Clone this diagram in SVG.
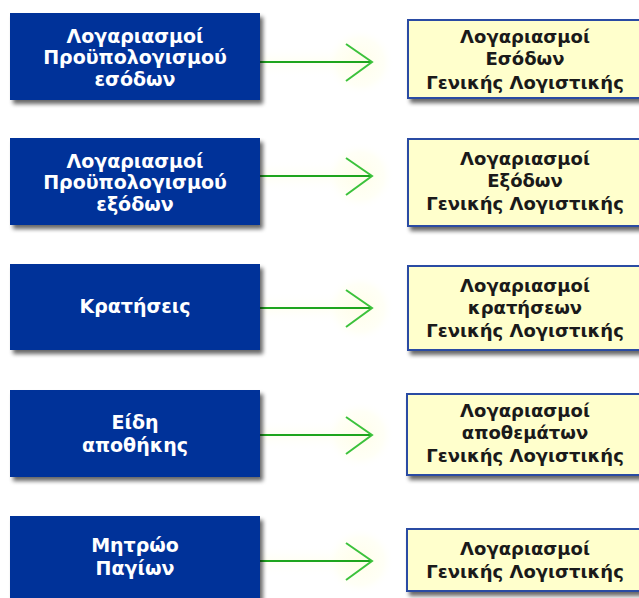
<svg xmlns="http://www.w3.org/2000/svg" width="639" height="598" viewBox="0 0 639 598">
<defs>
<filter id="sh" x="-10%" y="-10%" width="130%" height="140%">
<feGaussianBlur in="SourceAlpha" stdDeviation="2"/>
<feOffset dx="3" dy="4" result="b"/>
<feComponentTransfer><feFuncA type="linear" slope="0.6"/></feComponentTransfer>
<feMerge><feMergeNode/><feMergeNode in="SourceGraphic"/></feMerge>
</filter>
<radialGradient id="glow">
<stop offset="0" stop-color="#fffde8" stop-opacity="1"/>
<stop offset="0.7" stop-color="#fffff0" stop-opacity="0.6"/>
<stop offset="1" stop-color="#ffffff" stop-opacity="0"/>
</radialGradient>
<linearGradient id="band" x1="0" y1="0" x2="0" y2="1">
<stop offset="0" stop-color="#ffffff" stop-opacity="0"/>
<stop offset="0.5" stop-color="#fffff0" stop-opacity="0.8"/>
<stop offset="1" stop-color="#ffffff" stop-opacity="0"/>
</linearGradient>
<g id="arrow">
<rect x="262" y="-16" width="100" height="32" fill="url(#band)"/>
<circle cx="360" cy="0" r="34" fill="url(#glow)"/>
<line x1="260" y1="0" x2="371" y2="0" stroke="#1ea51e" stroke-width="2"/>
<polyline points="346,-18 372,0 346,19" fill="none" stroke="#3cc23c" stroke-width="2"/>
</g>
</defs>
<style>
.src rect{fill:#003399;filter:url(#sh)}
.dst rect{fill:#ffffcc;stroke:#2b4ba3;stroke-width:2;filter:url(#sh)}
.src text{fill:#ffffff;font-family:"DejaVu Sans",sans-serif;font-weight:bold;font-size:19px;text-anchor:middle}
.dst text{fill:#1a1a1a;font-family:"DejaVu Sans",sans-serif;font-weight:bold;font-size:18px;text-anchor:middle}
</style>
<rect width="639" height="598" fill="#ffffff"/>
<g id="connectors">
<use href="#arrow" y="62"/>
<use href="#arrow" y="176"/>
<use href="#arrow" y="308"/>
<use href="#arrow" y="435"/>
<use href="#arrow" y="561"/>
</g>
<g id="src1" class="src"><rect x="10" y="13" width="250" height="87"/>
<text x="135" y="43">Λογαριασμοί</text><text x="135" y="64">Προϋπολογισμού</text><text x="135" y="86">εσόδων</text></g>
<g id="src2" class="src"><rect x="10" y="138" width="250" height="87"/>
<text x="135" y="168">Λογαριασμοί</text><text x="135" y="189">Προϋπολογισμού</text><text x="135" y="211">εξόδων</text></g>
<g id="src3" class="src"><rect x="10" y="264" width="250" height="86"/>
<text x="135" y="313">Κρατήσεις</text></g>
<g id="src4" class="src"><rect x="10" y="390" width="250" height="87"/>
<text x="135" y="429">Είδη</text><text x="135" y="452">αποθήκης</text></g>
<g id="src5" class="src"><rect x="10" y="516" width="250" height="90"/>
<text x="135" y="552">Μητρώο</text><text x="135" y="575">Παγίων</text></g>
<g id="dst1" class="dst"><rect x="408" y="20" width="240" height="78"/>
<text x="525" y="43">Λογαριασμοί</text><text x="525" y="65">Εσόδων</text><text x="525" y="89">Γενικής Λογιστικής</text></g>
<g id="dst2" class="dst"><rect x="408" y="139" width="240" height="87"/>
<text x="525" y="165">Λογαριασμοί</text><text x="525" y="187">Εξόδων</text><text x="525" y="210">Γενικής Λογιστικής</text></g>
<g id="dst3" class="dst"><rect x="408" y="266" width="240" height="84"/>
<text x="525" y="292">Λογαριασμοί</text><text x="525" y="314">κρατήσεων</text><text x="525" y="337">Γενικής Λογιστικής</text></g>
<g id="dst4" class="dst"><rect x="407" y="394" width="240" height="81"/>
<text x="525" y="417">Λογαριασμοί</text><text x="525" y="439">αποθεμάτων</text><text x="525" y="462">Γενικής Λογιστικής</text></g>
<g id="dst5" class="dst"><rect x="407" y="529" width="240" height="62"/>
<text x="525" y="555">Λογαριασμοί</text><text x="525" y="578">Γενικής Λογιστικής</text></g>
</svg>
